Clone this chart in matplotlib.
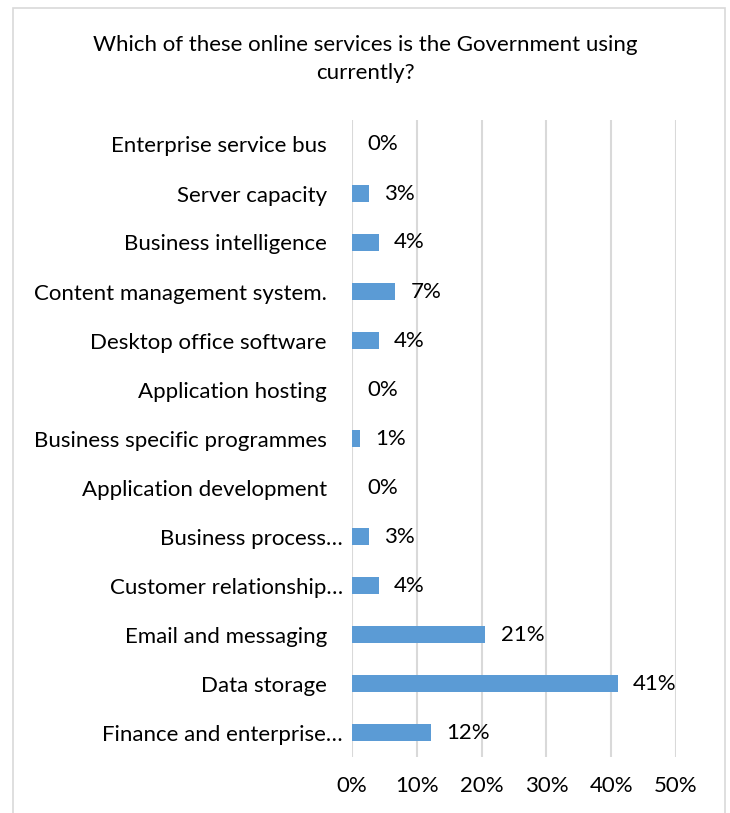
import matplotlib
matplotlib.use("Agg")
import matplotlib.pyplot as plt
import matplotlib.transforms as mtransforms
from matplotlib.patches import Rectangle

categories = [
    "Enterprise service bus",
    "Server capacity",
    "Business intelligence",
    "Content management system.",
    "Desktop office software",
    "Application hosting",
    "Business specific programmes",
    "Application development",
    "Business process…",
    "Customer relationship…",
    "Email and messaging",
    "Data storage",
    "Finance and enterprise…",
]
values = [0.0, 2.6, 4.1, 6.7, 4.1, 0.0, 1.3, 0.0, 2.6, 4.1, 20.6, 41.0, 12.2]
xticks = [0, 10, 20, 30, 40, 50]
title = "Which of these online services is the Government using\ncurrently?"

plt.rcParams['font.family'] = ['Lato', 'DejaVu Sans']
BAR = '#5B9BD5'
GRID = '#D9D9D9'
FS = 16

fig = plt.figure(figsize=(7.30, 8.13), dpi=100)
ax = fig.add_axes([352/730, 1-757/813, 324/730, (757-120)/813])

y = list(range(len(categories)))
ax.barh(y, values, height=0.35, color=BAR, zorder=3)
for yi, v in zip(y, values):
    ax.annotate(f"{round(v):d}%", (v, yi), xytext=(11, 0), textcoords='offset points',
                va='center', ha='left', fontsize=FS, color='#000000')

ax.set_xlim(0, 50)
ax.set_ylim(len(categories) - 0.5, -0.5)
ax.set_xticks(xticks)
ax.set_xticklabels([f"{t}%" for t in xticks], fontsize=FS)
ax.set_yticks(y)
ax.set_yticklabels(categories, fontsize=FS)
ax.tick_params(axis='both', length=0)
ax.tick_params(axis='x', pad=14)
ax.tick_params(axis='y', pad=18)
for lab in ax.get_yticklabels():
    if lab.get_text().endswith("…"):
        lab.set_transform(lab.get_transform() +
                          mtransforms.ScaledTranslation(16/100, 0, fig.dpi_scale_trans))
for s in ax.spines.values():
    s.set_visible(False)
ax.grid(axis='x', color=GRID, linewidth=1.5, zorder=0)
ax.set_axisbelow(True)

fig.text(0.5, 1 - 59/813, title, ha='center', va='center', fontsize=FS,
         linespacing=1.45)

fig.patches.append(Rectangle((13/730, -0.1), (725-13)/730, 1.1 - 8/813,
                             transform=fig.transFigure, fill=False,
                             edgecolor=GRID, linewidth=1.2))

fig.savefig("out.png", dpi=100)
